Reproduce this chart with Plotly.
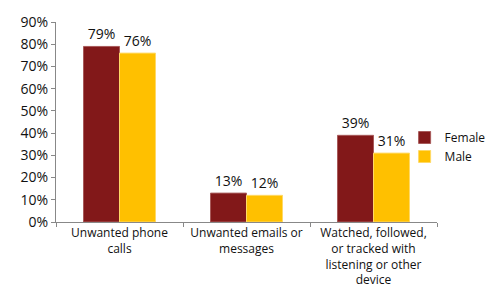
import plotly.graph_objects as go

categories = ["Unwanted phone<br>calls", "Unwanted emails or<br>messages",
              "Watched, followed,<br>or tracked with<br>listening or other<br>device"]
female = [0.79, 0.13, 0.39]
male = [0.76, 0.12, 0.31]

FONT = "Open Sans"
fig = go.Figure()
fig.add_trace(go.Bar(x=categories, y=female, name="Female", marker_color="#821819",
                     marker_line=dict(color="#A85A5A", width=1),
                     texttemplate="%{y:.0%}", textposition="outside",
                     textfont=dict(size=14, color="#111"), cliponaxis=False))
fig.add_trace(go.Bar(x=categories, y=male, name="Male", marker_color="#FFC000",
                     marker_line=dict(color="#FFD966", width=1),
                     texttemplate="%{y:.0%}", textposition="outside",
                     textfont=dict(size=14, color="#111"), cliponaxis=False))

fig.update_layout(
    width=496, height=288,
    margin=dict(l=48, r=67, t=14, b=74, autoexpand=False),
    paper_bgcolor="white", plot_bgcolor="white",
    barmode="group", bargap=0.433, bargroupgap=0,
    font=dict(family=FONT, size=13, color="#111"),
    showlegend=True,
    legend=dict(x=0.915, y=0.375, xanchor="left", yanchor="middle",
                font=dict(size=12, color="#111"), itemwidth=30,
                tracegroupgap=0, bgcolor="rgba(0,0,0,0)"),
)
fig.update_yaxes(range=[0, 0.9], dtick=0.1, tickformat=".0%", showgrid=False,
                 showline=True, linecolor="#888", linewidth=1,
                 ticks="outside", ticklen=4, tickcolor="#888", automargin=False,
                 tickfont=dict(size=14, color="#111"), zeroline=False)
fig.update_xaxes(showline=True, linecolor="#888", linewidth=1, tickangle=0,
                 ticks="outside", ticklen=4, tickcolor="#888", tickson="boundaries",
                 automargin=False,
                 tickfont=dict(size=12, color="#111"), showgrid=False)
fig.write_html("out.html")
